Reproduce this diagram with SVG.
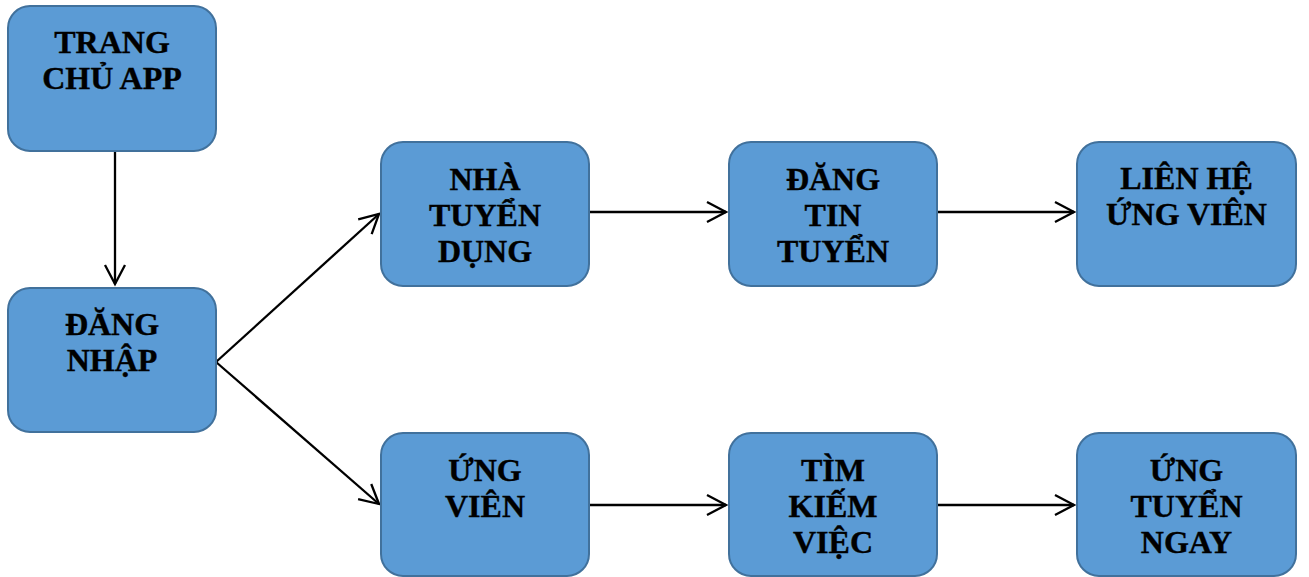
<svg xmlns="http://www.w3.org/2000/svg" width="1309" height="577" viewBox="0 0 1309 577">
<style>
.box{fill:#5B9BD5;stroke:#41719C;stroke-width:2}
.lbl{font-family:"Liberation Serif","Times New Roman",serif;font-weight:bold;font-size:32px;fill:#000;stroke:#000;stroke-width:0.4;text-anchor:middle}
.con{stroke:#000;stroke-width:2.3;fill:none;marker-end:url(#arr)}
</style>
<defs>
<marker id="arr" markerUnits="userSpaceOnUse" markerWidth="24" markerHeight="24" refX="20" refY="11" orient="auto" overflow="visible">
<path d="M1,1 L20,11 L1,21" fill="none" stroke="#000" stroke-width="2.3"/>
</marker>
</defs>
<rect width="1309" height="577" fill="#fff"/>
<g id="connectors">
<line class="con" x1="115" y1="151" x2="115" y2="284"/>
<line class="con" x1="216" y1="362" x2="379" y2="214"/>
<line class="con" x1="216" y1="362" x2="379" y2="504"/>
<line class="con" x1="589" y1="212" x2="726" y2="212"/>
<line class="con" x1="937" y1="212" x2="1074" y2="212"/>
<line class="con" x1="589" y1="505" x2="726" y2="505"/>
<line class="con" x1="937" y1="505" x2="1074" y2="505"/>
</g>
<g id="trang-chu">
<rect class="box" x="8" y="6" width="208" height="145" rx="22"/>
<text class="lbl" x="112" y="53">TRANG</text>
<text class="lbl" x="112" y="89">CHỦ APP</text>
</g>
<g id="dang-nhap">
<rect class="box" x="8" y="288" width="208" height="144" rx="22"/>
<text class="lbl" x="112" y="335">ĐĂNG</text>
<text class="lbl" x="112" y="371">NHẬP</text>
</g>
<g id="nha-tuyen-dung">
<rect class="box" x="381" y="142" width="208" height="144" rx="22"/>
<text class="lbl" x="485" y="190">NHÀ</text>
<text class="lbl" x="485" y="226">TUYỂN</text>
<text class="lbl" x="485" y="262">DỤNG</text>
</g>
<g id="dang-tin-tuyen">
<rect class="box" x="729" y="142" width="208" height="144" rx="22"/>
<text class="lbl" x="833" y="190">ĐĂNG</text>
<text class="lbl" x="833" y="226">TIN</text>
<text class="lbl" x="833" y="262">TUYỂN</text>
</g>
<g id="lien-he-ung-vien">
<rect class="box" x="1077" y="142" width="219" height="144" rx="22"/>
<text class="lbl" x="1186.5" y="189">LIÊN HỆ</text>
<text class="lbl" x="1186.5" y="225">ỨNG VIÊN</text>
</g>
<g id="ung-vien">
<rect class="box" x="381" y="433" width="208" height="143" rx="22"/>
<text class="lbl" x="485" y="481">ỨNG</text>
<text class="lbl" x="485" y="517">VIÊN</text>
</g>
<g id="tim-kiem-viec">
<rect class="box" x="729" y="433" width="208" height="143" rx="22"/>
<text class="lbl" x="833" y="481">TÌM</text>
<text class="lbl" x="833" y="517">KIẾM</text>
<text class="lbl" x="833" y="553">VIỆC</text>
</g>
<g id="ung-tuyen-ngay">
<rect class="box" x="1077" y="433" width="219" height="143" rx="22"/>
<text class="lbl" x="1186.5" y="481">ỨNG</text>
<text class="lbl" x="1186.5" y="517">TUYỂN</text>
<text class="lbl" x="1186.5" y="553">NGAY</text>
</g>
</svg>
